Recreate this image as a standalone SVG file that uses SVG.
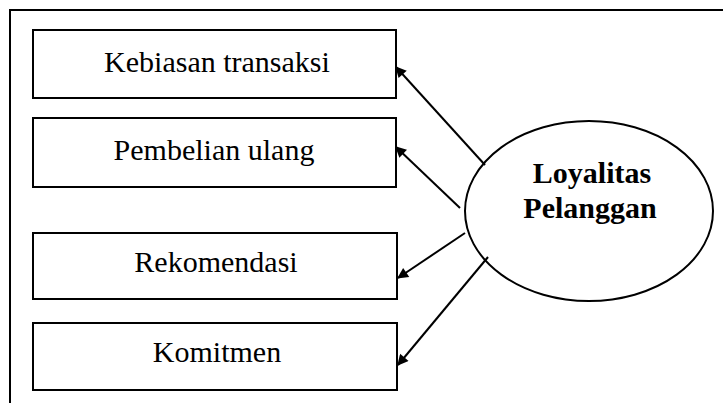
<svg xmlns="http://www.w3.org/2000/svg" width="723" height="403" viewBox="0 0 723 403">
<defs>
<style>
.box{fill:#fff;stroke:#000;stroke-width:2}
.lbl{font-family:"Liberation Serif","Times New Roman",serif;font-size:30px;fill:#000;text-anchor:middle}
.big{font-family:"Liberation Serif","Times New Roman",serif;font-size:30px;font-weight:bold;fill:#000;text-anchor:middle}
.conn{stroke:#000;stroke-width:2;fill:none;marker-end:url(#ah)}
</style>
<marker id="ah" viewBox="0 0 10 10" refX="9" refY="5" markerWidth="16" markerHeight="11" markerUnits="userSpaceOnUse" orient="auto">
<path d="M0,0 L10,5 L0,10 Z" fill="#000"/>
</marker>
</defs>
<rect width="723" height="403" fill="#fff"/>
<path d="M10,404 L10,10 L724,10" fill="none" stroke="#000" stroke-width="2"/>
<g id="kebiasan">
<rect class="box" x="33" y="30" width="363" height="68"/>
<text class="lbl" x="217" y="72">Kebiasan transaksi</text>
</g>
<g id="pembelian">
<rect class="box" x="33" y="118" width="363" height="69"/>
<text class="lbl" x="214" y="160">Pembelian ulang</text>
</g>
<g id="rekomendasi">
<rect class="box" x="33" y="233" width="364" height="66"/>
<text class="lbl" x="216" y="272">Rekomendasi</text>
</g>
<g id="komitmen">
<rect class="box" x="33" y="323" width="364" height="67"/>
<text class="lbl" x="217" y="362">Komitmen</text>
</g>
<g id="loyalitas">
<ellipse cx="589" cy="211" rx="124" ry="90" fill="none" stroke="#000" stroke-width="2"/>
<text class="big" x="592" y="183">Loyalitas</text>
<text class="big" x="590" y="218">Pelanggan</text>
</g>
<g id="connectors">
<line class="conn" x1="485" y1="165" x2="396" y2="67"/>
<line class="conn" x1="460" y1="208" x2="396" y2="147"/>
<line class="conn" x1="465" y1="233" x2="398" y2="278"/>
<line class="conn" x1="488" y1="257" x2="398" y2="365"/>
</g>
</svg>
